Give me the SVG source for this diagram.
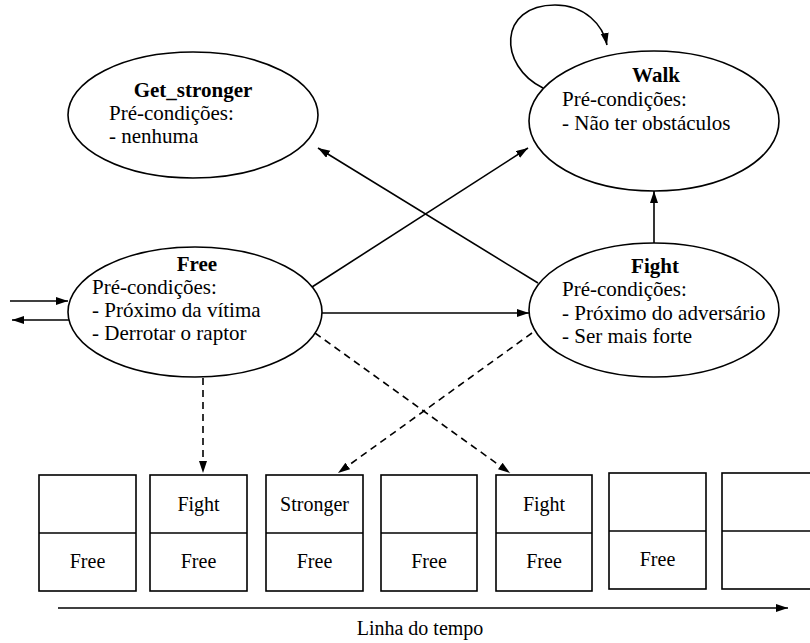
<svg xmlns="http://www.w3.org/2000/svg" width="810" height="643" viewBox="0 0 810 643" font-family="Liberation Serif, Times New Roman, serif">
  <style>
    .node ellipse { fill: #fff; stroke: #000; stroke-width: 1.6; }
    .box rect { fill: #fff; stroke: #000; stroke-width: 1.6; }
    .box line { stroke: #000; stroke-width: 1.6; }
    .st-head { font-family: "Liberation Serif", "Times New Roman", serif; font-size: 21px; font-weight: bold; text-anchor: middle; }
    .st-line { font-family: "Liberation Serif", "Times New Roman", serif; font-size: 21px; }
    .slot-txt { font-family: "Liberation Serif", "Times New Roman", serif; font-size: 20px; text-anchor: middle; }
    .edge { fill: none; stroke: #000; stroke-width: 1.6; marker-end: url(#arrow); }
    .dash { stroke-dasharray: 7 5; }
  </style>
  <defs>
    <marker id="arrow" markerUnits="userSpaceOnUse" markerWidth="13" markerHeight="9" refX="12" refY="4" orient="auto">
      <path d="M0,0 L12,4 L0,8 z" fill="#000"/>
    </marker>
  </defs>

  <rect width="810" height="643" fill="#fff"/>

  <!-- connectors -->
  <g id="connectors">
    <path class="edge" d="M543,88 C498,66 498,5 555,5 C585,5 603,25 607,45"/>
    <line class="edge" x1="538" y1="283" x2="318" y2="148"/>
    <line class="edge" x1="312" y1="287" x2="528" y2="148"/>
    <line class="edge" x1="322" y1="313" x2="529" y2="313"/>
    <line class="edge" x1="654" y1="243" x2="654" y2="191"/>
    <line class="edge" x1="10" y1="301" x2="68" y2="301"/>
    <line class="edge" x1="69" y1="320" x2="12" y2="320"/>
    <line class="edge dash" x1="203" y1="378" x2="203" y2="473"/>
    <line class="edge dash" x1="315" y1="333" x2="510" y2="473"/>
    <line class="edge dash" x1="532" y1="333" x2="338" y2="473"/>
    <line class="edge" x1="58" y1="608" x2="788" y2="608"/>
  </g>

  <!-- state nodes -->
  <g id="get_stronger" class="node">
    <ellipse cx="193" cy="115" rx="125" ry="63"/>
    <text class="st-head" x="193" y="97">Get_stronger</text>
    <text class="st-line" x="109" y="120">Pré-condições:</text>
    <text class="st-line" x="109" y="143">- nenhuma</text>
  </g>
  <g id="walk" class="node">
    <ellipse cx="654" cy="121" rx="125" ry="70"/>
    <text class="st-head" x="656" y="82">Walk</text>
    <text class="st-line" x="562" y="106">Pré-condições:</text>
    <text class="st-line" x="562" y="130">- Não ter obstáculos</text>
  </g>
  <g id="free" class="node">
    <ellipse cx="195" cy="312" rx="127" ry="65"/>
    <text class="st-head" x="197" y="271">Free</text>
    <text class="st-line" x="92" y="294">Pré-condições:</text>
    <text class="st-line" x="92" y="317">- Próximo da vítima</text>
    <text class="st-line" x="92" y="340">- Derrotar o raptor</text>
  </g>
  <g id="fight" class="node">
    <ellipse cx="654" cy="310" rx="125" ry="67"/>
    <text class="st-head" x="655" y="273">Fight</text>
    <text class="st-line" x="562" y="296">Pré-condições:</text>
    <text class="st-line" x="562" y="320">- Próximo do adversário</text>
    <text class="st-line" x="562" y="343">- Ser mais forte</text>
  </g>

  <!-- timeline slots -->
  <g id="slot1" class="box">
    <rect x="39" y="475" width="97" height="116"/>
    <line x1="39" y1="533" x2="136" y2="533"/>
    <text class="slot-txt" x="87.5" y="568">Free</text>
  </g>
  <g id="slot2" class="box">
    <rect x="150" y="475" width="97" height="116"/>
    <line x1="150" y1="533" x2="247" y2="533"/>
    <text class="slot-txt" x="198.5" y="511">Fight</text>
    <text class="slot-txt" x="198.5" y="568">Free</text>
  </g>
  <g id="slot3" class="box">
    <rect x="266" y="475" width="97" height="116"/>
    <line x1="266" y1="533" x2="363" y2="533"/>
    <text class="slot-txt" x="314.5" y="511">Stronger</text>
    <text class="slot-txt" x="314.5" y="568">Free</text>
  </g>
  <g id="slot4" class="box">
    <rect x="381" y="475" width="96" height="116"/>
    <line x1="381" y1="533" x2="477" y2="533"/>
    <text class="slot-txt" x="429" y="568">Free</text>
  </g>
  <g id="slot5" class="box">
    <rect x="496" y="475" width="96" height="116"/>
    <line x1="496" y1="533" x2="592" y2="533"/>
    <text class="slot-txt" x="544" y="511">Fight</text>
    <text class="slot-txt" x="544" y="568">Free</text>
  </g>
  <g id="slot6" class="box">
    <rect x="609" y="473" width="97" height="116"/>
    <line x1="609" y1="531" x2="706" y2="531"/>
    <text class="slot-txt" x="657.5" y="566">Free</text>
  </g>
  <g id="slot7" class="box">
    <rect x="722" y="473" width="97" height="116"/>
    <line x1="722" y1="531" x2="819" y2="531"/>
  </g>

  <text id="timeline-label" class="slot-txt" x="420" y="635">Linha do tempo</text>
</svg>
